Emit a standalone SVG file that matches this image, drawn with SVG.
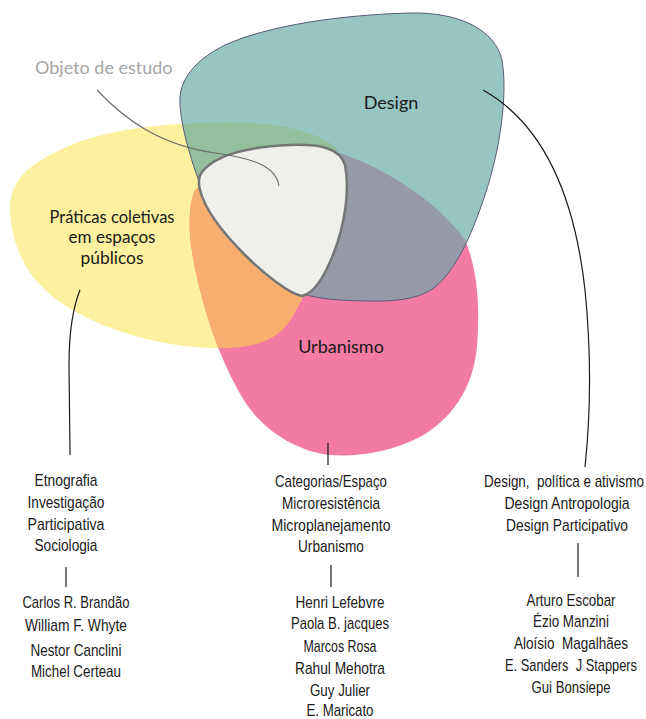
<svg xmlns="http://www.w3.org/2000/svg" width="646" height="719" viewBox="0 0 646 719">
<style>
.lbl{font-family:Lato,"Open Sans",sans-serif;font-size:18px;fill:#1a1a1a;text-anchor:middle}
.lbs{font-family:Lato,"Open Sans",sans-serif;font-size:17px;fill:#1a1a1a;text-anchor:middle}
.obj{font-family:Lato,"Open Sans",sans-serif;font-size:18px;fill:#a6a6a6}
.lst{font-family:"Liberation Sans","Arial",sans-serif;font-size:16px;fill:#1a1a1a;text-anchor:middle}
.lead{fill:none;stroke:#1a1a1a;stroke-width:1.2}
</style>
<defs>
<path id="pY" d="M200,123 C250,120 310,125 335,147 C350,165 340,230 320,265 C305,290 295,320 280,332 C265,345 240,349 210,348 C160,346 100,330 60,302 C25,278 12,245 10,210 C9,185 25,168 50,155 C90,133 140,125 200,123 Z"/>
<path id="pP" d="M195,190 C230,160 300,150 340,153 C390,170 440,205 465,240 C478,270 480,310 477,347 C473,390 450,420 420,437 C390,452 360,457 330,455 C290,450 260,425 245,402 C225,370 210,330 200,290 C190,250 185,215 195,190 Z"/>
<path id="pD" d="M180,105 C178,80 195,60 225,45 C270,25 340,15 410,13 C460,12 495,30 502,60 C508,95 500,150 485,195 C470,240 455,270 435,287 C415,303 380,302 340,300 C310,298 290,292 269,277 C240,255 210,215 195,170 C185,140 181,120 180,105 Z"/>
<clipPath id="cY"><use href="#pY"/></clipPath>
<clipPath id="cP"><use href="#pP"/></clipPath>
</defs>
<g id="yellow"><use href="#pY" fill="#fdf09e"/></g>
<g id="pink"><use href="#pP" fill="#f27ba3"/>
<use href="#pP" fill="#f8ae6e" clip-path="url(#cY)"/></g>
<g id="design"><use href="#pD" fill="#97c5c0"/>
<use href="#pD" fill="#93bf9c" clip-path="url(#cY)"/>
<use href="#pD" fill="#969aa6" clip-path="url(#cP)"/>
<use href="#pD" fill="none" stroke="#5b5a78" stroke-width="1"/></g>
<g id="objeto"><path d="M202,172 C215,155 245,147 290,145 C320,144 340,148 345,165 C350,190 345,225 333,255 C323,280 312,294 302,296 C290,294 265,275 245,255 C225,235 205,210 200,190 C198,182 199,176 202,172 Z" fill="#eef0ec" stroke="#767676" stroke-width="2.5" stroke-linejoin="round"/></g>
<g id="connectors">
<path d="M97,90 C125,120 160,145 215,153 C250,158 276,165 279,186" fill="none" stroke="#6a6a6a" stroke-width="1.1"/>
<path class="lead" d="M483,90 C545,125 575,200 585,290 C592,360 590,420 585,467"/>
<path class="lead" d="M80,290 C72,310 69,335 69,365 L70,455"/>
<line class="lead" x1="328" y1="443" x2="328" y2="465"/>
<line class="lead" x1="66" y1="567" x2="66" y2="587"/>
<line class="lead" x1="331" y1="565" x2="331" y2="587"/>
<line class="lead" x1="578" y1="543" x2="578" y2="577"/>
</g>
<g id="labels">
<text class="obj" x="35" y="74">Objeto de estudo</text>
<text class="lbl" x="391" y="109">Design</text>
<text class="lbl" x="341" y="353">Urbanismo</text>
<text class="lbs" x="112" y="222.5" textLength="125" lengthAdjust="spacingAndGlyphs">Práticas coletivas</text>
<text class="lbs" x="112" y="243" textLength="87" lengthAdjust="spacingAndGlyphs">em espaços</text>
<text class="lbs" x="112" y="263.5" textLength="63" lengthAdjust="spacingAndGlyphs">públicos</text>
</g>
<g id="lists" transform="scale(0.85,1)">
<g id="list-left">
<text class="lst" x="77.6" y="486" textLength="74.1" lengthAdjust="spacingAndGlyphs">Etnografia</text>
<text class="lst" x="77.6" y="508" textLength="90.6" lengthAdjust="spacingAndGlyphs">Investigação</text>
<text class="lst" x="77.6" y="530" textLength="90.6" lengthAdjust="spacingAndGlyphs">Participativa</text>
<text class="lst" x="77.6" y="551" textLength="74.1" lengthAdjust="spacingAndGlyphs">Sociologia</text>
<text class="lst" x="89.4" y="608" textLength="125.9" lengthAdjust="spacingAndGlyphs">Carlos R. Brandão</text>
<text class="lst" x="89.4" y="631" textLength="120" lengthAdjust="spacingAndGlyphs">William F. Whyte</text>
<text class="lst" x="89.4" y="656" textLength="107.1" lengthAdjust="spacingAndGlyphs">Nestor Canclini</text>
<text class="lst" x="89.4" y="677" textLength="105.9" lengthAdjust="spacingAndGlyphs">Michel Certeau</text>
</g>
<g id="list-mid">
<text class="lst" x="389.4" y="487" textLength="131.8" lengthAdjust="spacingAndGlyphs">Categorias/Espaço</text>
<text class="lst" x="389.4" y="509" textLength="115.3" lengthAdjust="spacingAndGlyphs">Microresistência</text>
<text class="lst" x="389.4" y="531" textLength="140" lengthAdjust="spacingAndGlyphs">Microplanejamento</text>
<text class="lst" x="389.4" y="552" textLength="77.6" lengthAdjust="spacingAndGlyphs">Urbanismo</text>
<text class="lst" x="400" y="608" textLength="104.7" lengthAdjust="spacingAndGlyphs">Henri Lefebvre</text>
<text class="lst" x="400" y="629" textLength="115.3" lengthAdjust="spacingAndGlyphs">Paola B. jacques</text>
<text class="lst" x="400" y="652" textLength="85.9" lengthAdjust="spacingAndGlyphs">Marcos Rosa</text>
<text class="lst" x="400" y="674" textLength="105.9" lengthAdjust="spacingAndGlyphs">Rahul Mehotra</text>
<text class="lst" x="400" y="696" textLength="70.6" lengthAdjust="spacingAndGlyphs">Guy Julier</text>
<text class="lst" x="400" y="716" textLength="78.8" lengthAdjust="spacingAndGlyphs">E. Maricato</text>
</g>
<g id="list-right">
<text class="lst" x="663.5" y="487" textLength="188.2" lengthAdjust="spacingAndGlyphs" xml:space="preserve">Design,  política e ativismo</text>
<text class="lst" x="667.1" y="509" textLength="147.1" lengthAdjust="spacingAndGlyphs">Design Antropologia</text>
<text class="lst" x="667.1" y="531" textLength="143.5" lengthAdjust="spacingAndGlyphs">Design Participativo</text>
<text class="lst" x="671.8" y="606" textLength="104.7" lengthAdjust="spacingAndGlyphs">Arturo Escobar</text>
<text class="lst" x="671.8" y="627" textLength="89.4" lengthAdjust="spacingAndGlyphs">Ézio Manzini</text>
<text class="lst" x="671.8" y="649" textLength="134.1" lengthAdjust="spacingAndGlyphs" xml:space="preserve">Aloísio  Magalhães</text>
<text class="lst" x="671.8" y="671" textLength="155.3" lengthAdjust="spacingAndGlyphs" xml:space="preserve">E. Sanders  J Stappers</text>
<text class="lst" x="671.8" y="693" textLength="92.9" lengthAdjust="spacingAndGlyphs">Gui Bonsiepe</text>
</g>
</g>
</svg>
